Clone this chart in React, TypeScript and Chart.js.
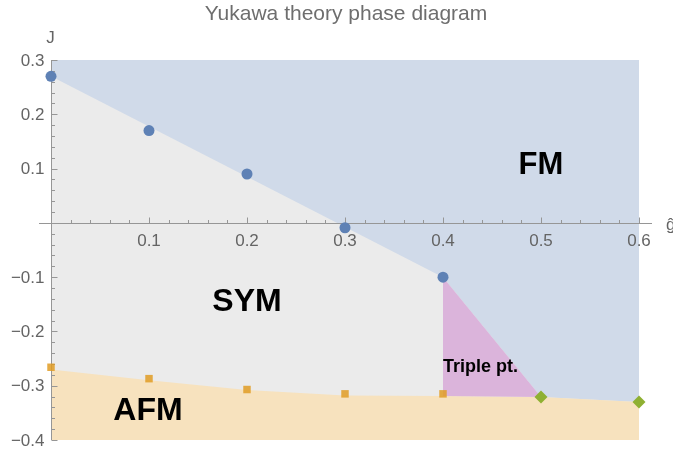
import React, { useEffect, useRef } from "react";
import { Chart, registerables } from "chart.js";

Chart.register(...registerables);

// ---- data ----
const fmG = [0, 0.1, 0.2, 0.3, 0.4];
const fmJ = [0.27, 0.17, 0.09, -0.009, -0.1];
const afmG = [0, 0.1, 0.2, 0.3, 0.4];
const afmJ = [-0.266, -0.287, -0.307, -0.315, -0.315];
const tripleG = [0.5, 0.6];
const tripleJ = [-0.321, -0.33];

// phase boundaries
const fmEdgeG = [0, 0.4, 0.5, 0.6];
const fmEdgeJ = [0.27, -0.1, -0.321, -0.33];
const afmEdgeG = [0, 0.1, 0.2, 0.3, 0.4, 0.5, 0.6];
const afmEdgeJ = [-0.27, -0.29, -0.308, -0.318, -0.319, -0.321, -0.33];
const tripleRegionG = [0.4, 0.4, 0.5];
const tripleRegionJ = [-0.1, -0.319, -0.321];

const xTicks = [0.1, 0.2, 0.3, 0.4, 0.5, 0.6];
const xTickLabels = ["0.1", "0.2", "0.3", "0.4", "0.5", "0.6"];
const yTicks = [0.3, 0.2, 0.1, -0.1, -0.2, -0.3, -0.4];
const yTickLabels = ["0.3", "0.2", "0.1", "\u22120.1", "\u22120.2", "\u22120.3", "\u22120.4"];

const G_MIN = 0, G_MAX = 0.6, J_MIN = -0.4, J_MAX = 0.3;

const regionLabels = [
  { text: "FM", g: 0.5, j: 0.105, size: 31, align: "center" as CanvasTextAlign },
  { text: "SYM", g: 0.2, j: -0.147, size: 32, align: "center" as CanvasTextAlign },
  { text: "AFM", g: 0.099, j: -0.346, size: 32, align: "center" as CanvasTextAlign },
  { text: "Triple pt.", g: 0.4, j: -0.266, size: 18, align: "left" as CanvasTextAlign },
];

const FONT = "'Liberation Sans', Arial, Helvetica, sans-serif";

const zip = (a: number[], b: number[]) => a.map((v, i) => ({ x: v, y: b[i] }));

const phasePlugin = {
  id: "phase",
  beforeDatasetsDraw(chart: any) {
    const { ctx, chartArea, scales } = chart;
    const X = (v: number) => scales.x.getPixelForValue(v);
    const Y = (v: number) => scales.y.getPixelForValue(v);
    ctx.save();
    // SYM background
    ctx.fillStyle = "rgb(235,235,235)";
    ctx.fillRect(X(G_MIN), Y(J_MAX), X(G_MAX) - X(G_MIN), Y(J_MIN) - Y(J_MAX));

    const poly = (gs: number[], js: number[], extra: [number, number][], color: string) => {
      ctx.beginPath();
      gs.forEach((g, i) => (i === 0 ? ctx.moveTo(X(g), Y(js[i])) : ctx.lineTo(X(g), Y(js[i]))));
      extra.forEach(([g, j]) => ctx.lineTo(X(g), Y(j)));
      ctx.closePath();
      ctx.fillStyle = color;
      ctx.fill();
    };
    poly(fmEdgeG, fmEdgeJ, [[G_MAX, J_MAX], [G_MIN, J_MAX]], "rgb(208,218,233)");
    poly(afmEdgeG, afmEdgeJ, [[G_MAX, J_MIN], [G_MIN, J_MIN]], "rgb(247,226,190)");
    poly(tripleRegionG, tripleRegionJ, [], "rgb(219,180,219)");

    // axes
    const axisColor = "rgb(150,150,150)";
    const y0 = Math.round(Y(0)) + 0.5;
    const x0 = Math.round(X(0)) + 0.5;
    ctx.strokeStyle = axisColor;
    ctx.lineWidth = 1;
    ctx.beginPath();
    ctx.moveTo(X(G_MIN) - 12, y0);
    ctx.lineTo(X(G_MAX) + 13, y0);
    ctx.moveTo(x0, Y(J_MAX));
    ctx.lineTo(x0, Y(J_MIN));
    // x ticks (upwards)
    for (let k = 1; k <= 30; k++) {
      const g = k * 0.02;
      const major = k % 5 === 0;
      const px = Math.round(X(g)) + 0.5;
      ctx.moveTo(px, y0);
      ctx.lineTo(px, y0 - (major ? 6 : 3.5));
    }
    // y ticks (rightwards)
    for (let k = -20; k <= 15; k++) {
      const j = k * 0.02;
      const major = k % 5 === 0;
      const py = Math.round(Y(j)) + 0.5;
      ctx.moveTo(x0, py);
      ctx.lineTo(x0 + (major ? 6 : 3.5), py);
    }
    ctx.stroke();

    // tick labels
    ctx.fillStyle = "rgb(100,100,100)";
    ctx.font = `17px ${FONT}`;
    ctx.textAlign = "center";
    ctx.textBaseline = "top";
    xTicks.forEach((g, i) => ctx.fillText(xTickLabels[i], X(g), y0 + 9));
    ctx.textAlign = "right";
    ctx.textBaseline = "middle";
    yTicks.forEach((j, i) => ctx.fillText(yTickLabels[i], x0 - 7, Y(j) + 1));
    // axis labels
    ctx.textAlign = "center";
    ctx.fillText("J", x0 - 1, 38);
    ctx.textAlign = "left";
    ctx.fillText("\u011D", X(G_MAX) + 27, y0 + 2);
    // title
    ctx.font = `21px ${FONT}`;
    ctx.fillStyle = "rgb(110,110,110)";
    ctx.textAlign = "center";
    ctx.textBaseline = "alphabetic";
    ctx.fillText("Yukawa theory phase diagram", (chartArea.left + chartArea.right) / 2 + 1, 20);
    ctx.restore();
  },
  afterDatasetsDraw(chart: any) {
    const { ctx, scales } = chart;
    ctx.save();
    ctx.fillStyle = "#000";
    ctx.textBaseline = "middle";
    regionLabels.forEach((l) => {
      ctx.font = `bold ${l.size}px ${FONT}`;
      ctx.textAlign = l.align;
      ctx.fillText(l.text, scales.x.getPixelForValue(l.g), scales.y.getPixelForValue(l.j));
    });
    ctx.restore();
  },
};

export default function App() {
  const ref = useRef<HTMLCanvasElement | null>(null);
  useEffect(() => {
    if (!ref.current) return;
    const chart = new Chart(ref.current, {
      type: "scatter",
      data: {
        datasets: [
          {
            label: "FM",
            data: zip(fmG, fmJ),
            pointStyle: "circle",
            pointRadius: 5.5,
            backgroundColor: "rgb(94,129,181)",
            borderWidth: 0,
            clip: false,
          },
          {
            label: "AFM",
            data: zip(afmG, afmJ),
            pointStyle: "rect",
            pointRadius: 5.3,
            backgroundColor: "rgba(225,156,36,0.85)",
            borderWidth: 0,
            clip: false,
          },
          {
            label: "Triple",
            data: zip(tripleG, tripleJ),
            pointStyle: "rectRot",
            pointRadius: 6.5,
            backgroundColor: "rgb(143,176,50)",
            borderWidth: 0,
            clip: false,
          },
        ],
      },
      options: {
        animation: false,
        responsive: false,
        devicePixelRatio: 1,
        layout: { padding: { left: 51, right: 34, top: 60, bottom: 10 } },
        scales: {
          x: { type: "linear", min: G_MIN, max: G_MAX, display: false },
          y: { type: "linear", min: J_MIN, max: J_MAX, display: false },
        },
        plugins: { legend: { display: false }, title: { display: false }, tooltip: { enabled: false } },
      },
      plugins: [phasePlugin],
    });
    return () => chart.destroy();
  }, []);
  return (
    <div style={{ position: "absolute", left: 0, top: 0, width: 673, height: 450, background: "#fff" }}>
      <canvas ref={ref} width={673} height={450} />
    </div>
  );
}
